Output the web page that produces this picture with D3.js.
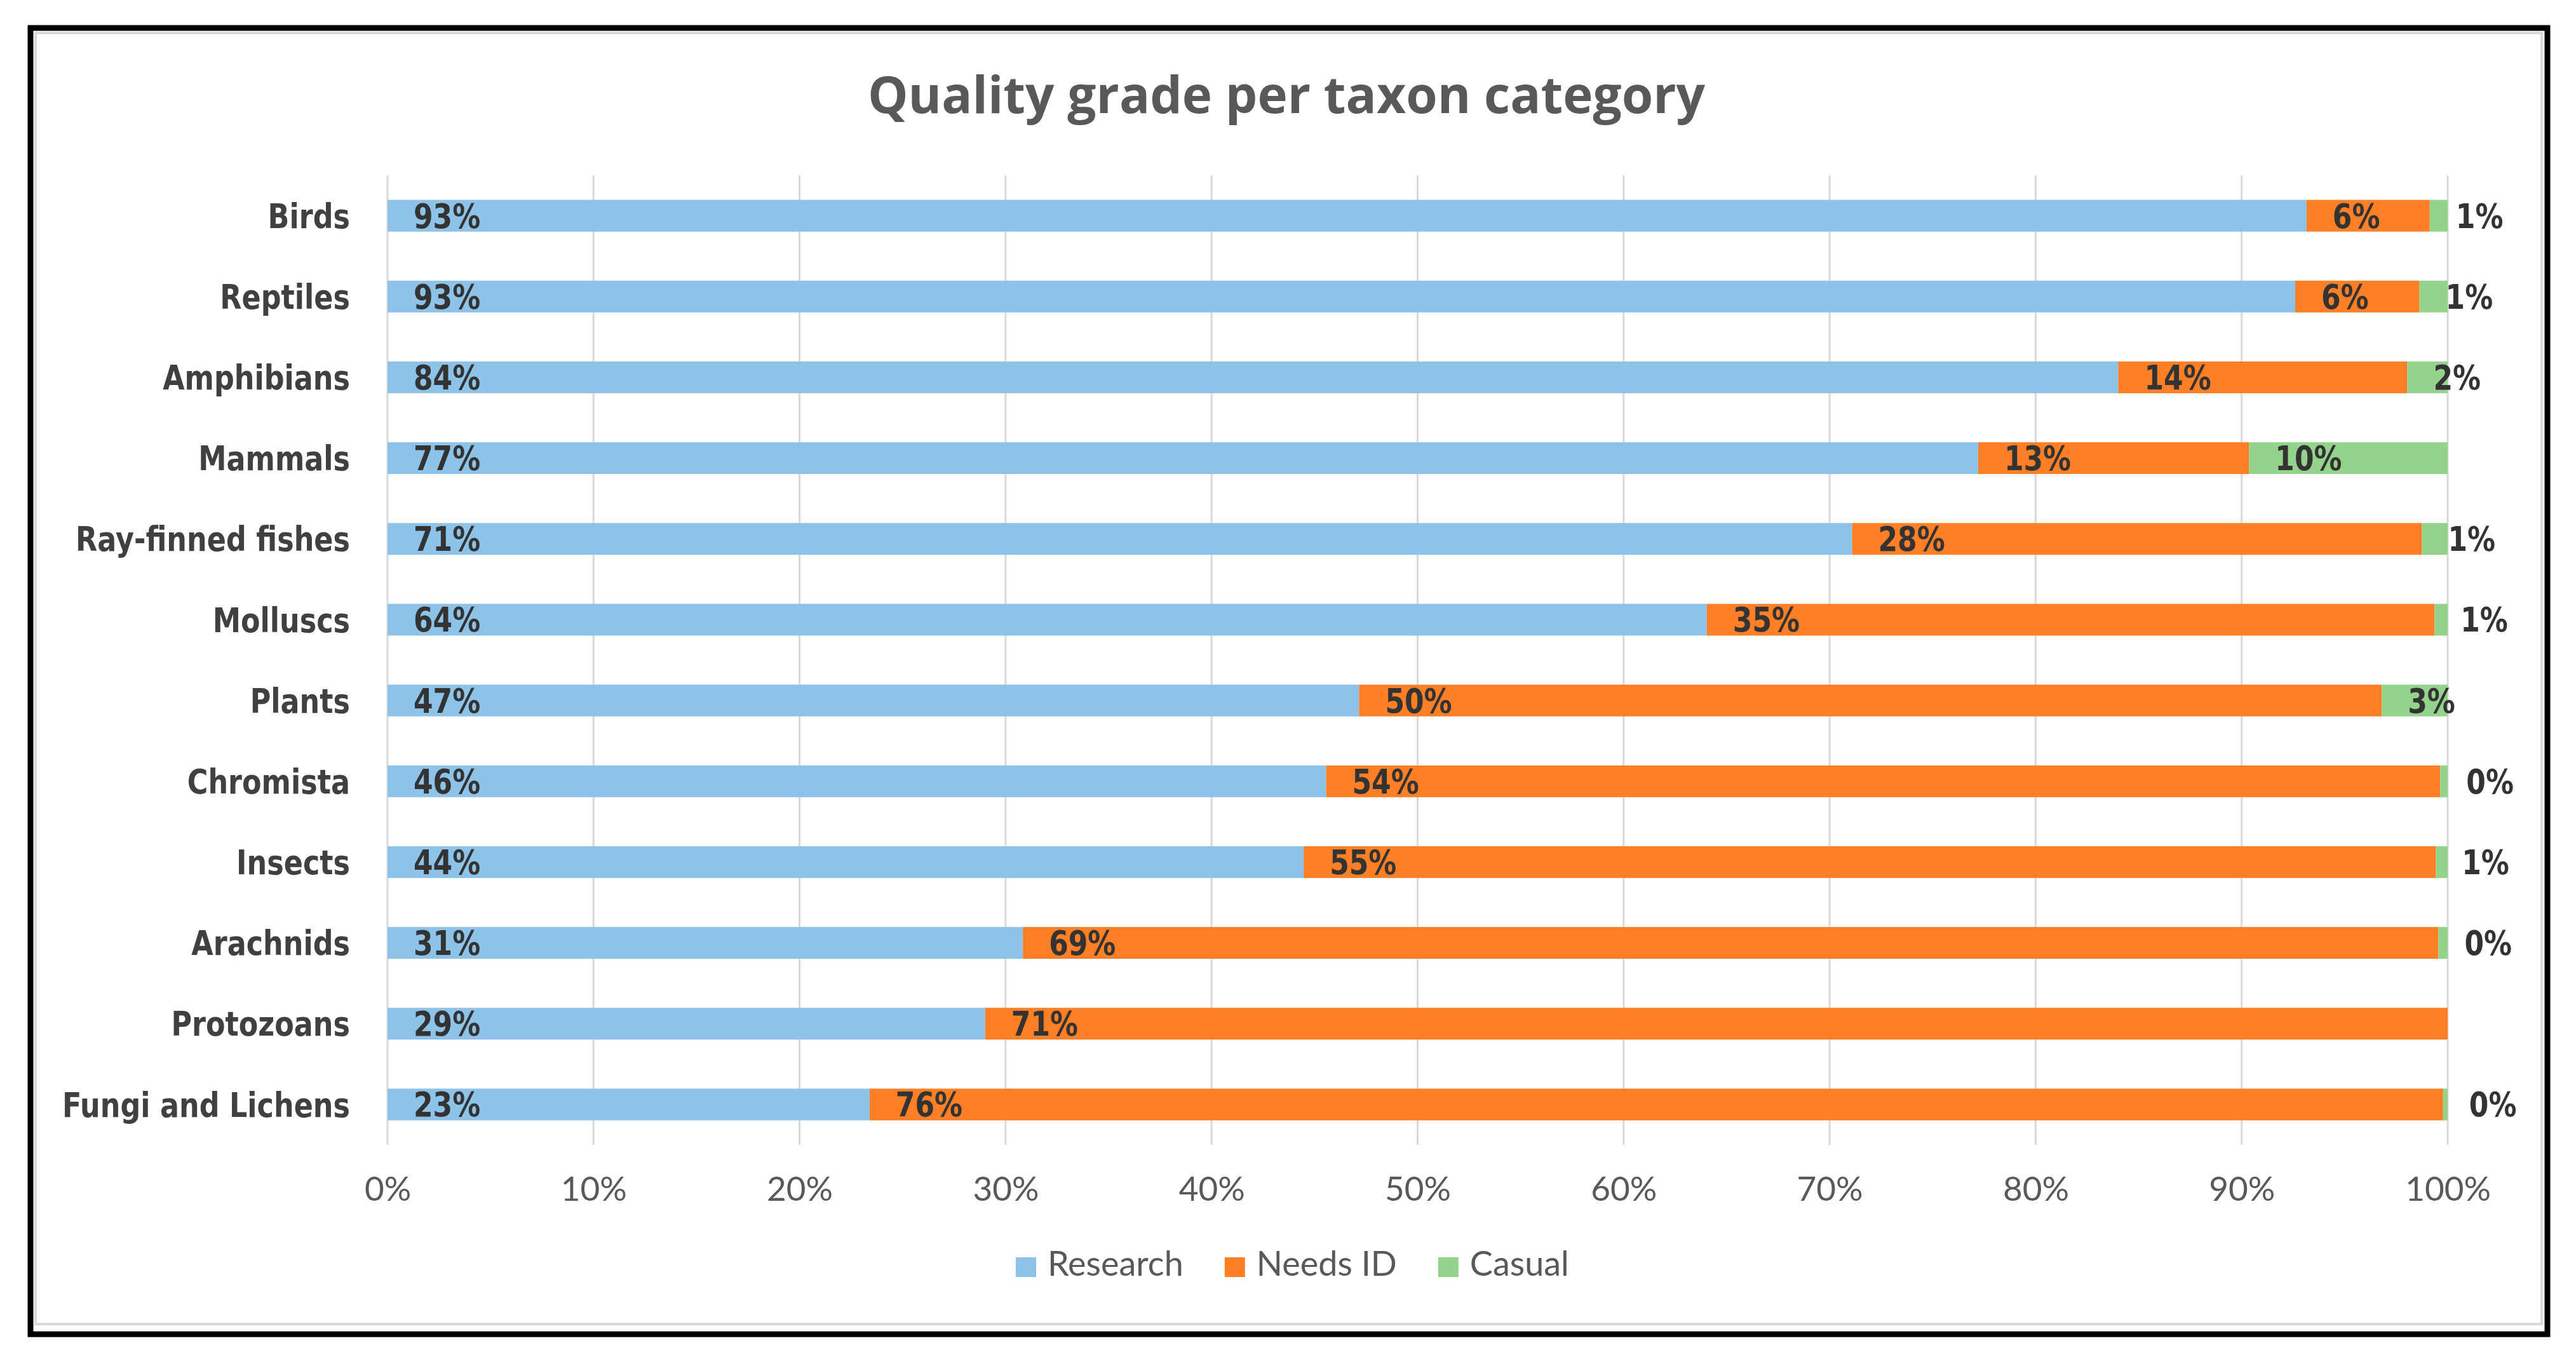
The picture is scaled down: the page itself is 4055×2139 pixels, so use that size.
<!DOCTYPE html>
<html>
<head>
<meta charset="utf-8">
<script src="https://cdn.jsdelivr.net/npm/d3@7"></script>
<style>
  body { margin: 0; background: #fff; }
</style>
</head>
<body>
<div id="my_dataviz"></div>
<script>
// categories, top to bottom
const categories = ["Birds", "Reptiles", "Amphibians", "Mammals", "Ray-finned fishes", "Molluscs",
    "Plants", "Chromista", "Insects", "Arachnids", "Protozoans", "Fungi and Lichens"];

// share of each quality grade
const research = [0.9315, 0.9260, 0.8401, 0.7721, 0.7109, 0.6404, 0.4716, 0.4556, 0.4447, 0.3084, 0.2901, 0.2340];
const needsId  = [0.0598, 0.0603, 0.1403, 0.1315, 0.2766, 0.3532, 0.4964, 0.5408, 0.5495, 0.6871, 0.7099, 0.7638];
const casual   = [0.0087, 0.0137, 0.0196, 0.0964, 0.0125, 0.0064, 0.0320, 0.0036, 0.0058, 0.0045, 0, 0.0022];

const seriesNames = ["Research", "Needs ID", "Casual"];
const xTicks = [0, 0.1, 0.2, 0.3, 0.4, 0.5, 0.6, 0.7, 0.8, 0.9, 1];

const W = 4055, H = 2139;
const plot = { left: 610, right: 3853, top: 276, bottom: 1802 };
const stretch = 1.2; // the reference text is a bit taller than the fonts we have

const svg = d3.select("#my_dataviz")
    .append("svg")
    .attr("width", W)
    .attr("height", H)
    .style("display", "block");

svg.append("rect").attr("width", W).attr("height", H).attr("fill", "#fff");

// frames
svg.append("rect")
    .attr("x", 56).attr("y", 52).attr("width", 3945).attr("height", 2032)
    .attr("fill", "none").attr("stroke", "#d9d9d9").attr("stroke-width", 4);
svg.append("rect")
    .attr("x", 48).attr("y", 44).attr("width", 3962).attr("height", 2056)
    .attr("fill", "none").attr("stroke", "#000").attr("stroke-width", 9);

// title
svg.append("text")
    .attr("x", 2025).attr("y", 178)
    .attr("text-anchor", "middle")
    .style("font-family", "'Open Sans'")
    .style("font-weight", "bold")
    .style("font-size", "80px")
    .style("fill", "#595959")
    .text("Quality grade per taxon category");

// table for the stack
const data = categories.map((c, i) => ({
    cat: c, "Research": research[i], "Needs ID": needsId[i], "Casual": casual[i]
}));

const stackedData = d3.stack().keys(seriesNames)(data);

const color = d3.scaleOrdinal()
    .domain(seriesNames)
    .range(["#8dc3e8", "#fe7f25", "#93d38b"]);

const x = d3.scaleLinear().domain([0, 1]).range([plot.left, plot.right]);
const y = d3.scaleBand()
    .domain(categories)
    .range([plot.top, plot.bottom])
    .paddingInner(0.607)
    .paddingOuter(0.3035);

// gridlines
svg.append("g")
    .selectAll("line")
    .data(xTicks)
    .join("line")
    .attr("x1", d => x(d)).attr("x2", d => x(d))
    .attr("y1", plot.top).attr("y2", plot.bottom)
    .attr("stroke", "#d9d9d9")
    .attr("stroke-width", 3);

// x axis labels
const xAxis = svg.append("g")
    .attr("transform", `translate(0, ${plot.bottom})`)
    .call(d3.axisBottom(x).tickValues(xTicks).tickFormat(d3.format(".0%")).tickSize(0).tickPadding(88));
xAxis.select(".domain").remove();
xAxis.selectAll("text")
    .attr("dy", 0)
    .style("font-family", "Lato")
    .style("font-size", "53px")
    .style("fill", "#595959");

// bars
const layers = svg.append("g")
    .selectAll("g")
    .data(stackedData)
    .join("g")
    .attr("fill", d => color(d.key));

layers.selectAll("rect")
    .data(d => d)
    .join("rect")
    .attr("x", d => x(d[0]))
    .attr("width", d => x(d[1]) - x(d[0]))
    .attr("y", d => y(d.data.cat))
    .attr("height", y.bandwidth());

// data labels (inside base)
const fmt = d3.format(".0%");
const labelSize = 44;
layers.selectAll("text")
    .data(d => d.filter(p => p[1] - p[0] > 0))
    .join("text")
    .attr("transform", d => `translate(${x(d[0]) + 41}, ${y(d.data.cat) + y.bandwidth() / 2 + 0.36 * labelSize * stretch}) scale(1, ${stretch})`)
    .style("font-family", "DejaVu Sans")
    .style("font-weight", "bold")
    .style("font-size", labelSize + "px")
    .style("fill", "#333333")
    .text(d => fmt(d[1] - d[0]));

// category labels
const catSize = 44.5;
svg.append("g")
    .selectAll("text")
    .data(categories)
    .join("text")
    .attr("transform", d => `translate(551, ${y(d) + y.bandwidth() / 2 + 0.36 * catSize * stretch}) scale(1, ${stretch})`)
    .attr("text-anchor", "end")
    .style("font-family", "DejaVu Sans")
    .style("font-weight", "bold")
    .style("font-size", catSize + "px")
    .style("fill", "#404040")
    .text(d => d);

// legend
const legend = svg.append("g");
let lx = 1599;
seriesNames.forEach(function (k) {
    legend.append("rect")
        .attr("x", lx).attr("y", 1979).attr("width", 32).attr("height", 31)
        .attr("fill", color(k));
    const t = legend.append("text")
        .attr("x", lx + 50).attr("y", 2008)
        .style("font-family", "Lato")
        .style("font-size", "54px")
        .style("fill", "#595959")
        .text(k);
    lx += 50 + t.node().getComputedTextLength() + 65;
});
</script>
</body>
</html>
